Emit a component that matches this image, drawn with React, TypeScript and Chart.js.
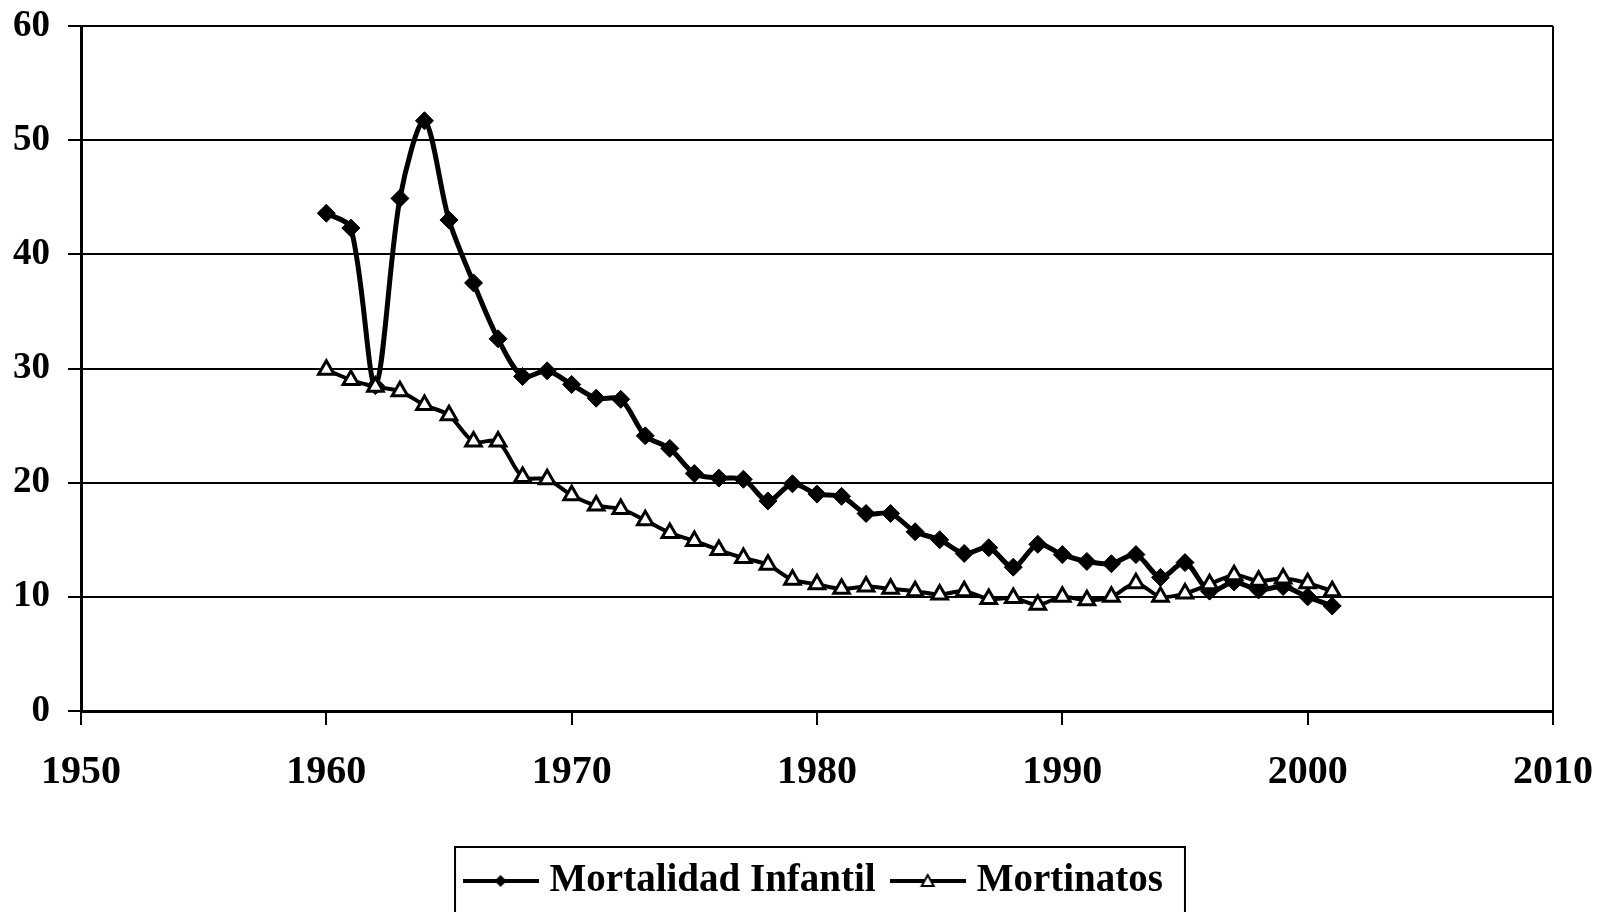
import { useEffect, useRef } from "react";
import { Chart, registerables } from "chart.js";

Chart.register(...registerables);

const years = [
  1960, 1961, 1962, 1963, 1964, 1965, 1966, 1967, 1968, 1969,
  1970, 1971, 1972, 1973, 1974, 1975, 1976, 1977, 1978, 1979,
  1980, 1981, 1982, 1983, 1984, 1985, 1986, 1987, 1988, 1989,
  1990, 1991, 1992, 1993, 1994, 1995, 1996, 1997, 1998, 1999,
  2000, 2001,
];

const mortalidadInfantil = [
  43.6, 42.3, 28.5, 44.9, 51.7, 43.0, 37.5, 32.6, 29.3, 29.8,
  28.6, 27.4, 27.3, 24.1, 23.0, 20.8, 20.4, 20.3, 18.4, 19.9,
  19.0, 18.8, 17.3, 17.3, 15.7, 15.0, 13.8, 14.3, 12.6, 14.6,
  13.7, 13.1, 12.9, 13.7, 11.7, 13.0, 10.5, 11.3, 10.6, 10.9,
  10.0, 9.2,
];

const mortinatos = [
  29.9, 29.0, 28.4, 28.0, 26.8, 25.9, 23.6, 23.6, 20.5, 20.3,
  18.9, 18.0, 17.7, 16.7, 15.6, 14.9, 14.1, 13.4, 12.8, 11.5,
  11.1, 10.7, 10.9, 10.7, 10.5, 10.2, 10.5, 9.8, 9.9, 9.3,
  10.0, 9.7, 10.0, 11.2, 10.0, 10.3, 11.1, 11.9, 11.4, 11.6,
  11.2, 10.5,
];

const seriesNames = ["Mortalidad Infantil", "Mortinatos"];
const xRange = [1950, 2010];
const yRange = [0, 60];
const tickStep = 10;

const FONT = "'Liberation Serif', 'Times New Roman', serif";

function makeLegendMarker(kind: "diamond" | "triangle"): HTMLCanvasElement {
  const w = 76;
  const c = document.createElement("canvas");
  c.width = w;
  c.height = 20;
  const ctx = c.getContext("2d")!;
  ctx.strokeStyle = "#000";
  ctx.lineWidth = 4;
  ctx.beginPath();
  ctx.moveTo(0, 10);
  ctx.lineTo(w, 10);
  ctx.stroke();
  const cx = w / 2;
  const cy = 10;
  if (kind === "diamond") {
    ctx.fillStyle = "#000";
    ctx.beginPath();
    ctx.moveTo(cx - 6, cy);
    ctx.lineTo(cx, cy - 6);
    ctx.lineTo(cx + 6, cy);
    ctx.lineTo(cx, cy + 6);
    ctx.closePath();
    ctx.fill();
  } else {
    ctx.fillStyle = "#fff";
    ctx.lineWidth = 2;
    ctx.beginPath();
    ctx.moveTo(cx, cy - 6);
    ctx.lineTo(cx + 6, cy + 5);
    ctx.lineTo(cx - 6, cy + 5);
    ctx.closePath();
    ctx.fill();
    ctx.stroke();
  }
  return c;
}

const legendBoxPlugin = {
  id: "legendBox",
  afterDraw(chart: any) {
    const legend = chart.legend;
    if (!legend || !legend.legendHitBoxes || legend.legendHitBoxes.length === 0) return;
    const hb = legend.legendHitBoxes;
    const first = hb[0];
    const last = hb[hb.length - 1];
    const left = first.left - 16;
    const right = last.left + last.width + 22;
    const top = first.top + first.height / 2 - 34;
    const ctx = chart.ctx;
    ctx.save();
    ctx.strokeStyle = "#000";
    ctx.lineWidth = 2;
    ctx.strokeRect(left, top, right - left, 200);
    ctx.restore();
  },
};

export default function App() {
  const canvasRef = useRef<HTMLCanvasElement | null>(null);

  useEffect(() => {
    if (!canvasRef.current) return;
    const markers = [makeLegendMarker("diamond"), makeLegendMarker("triangle")];

    const chart = new Chart(canvasRef.current, {
      type: "line",
      data: {
        datasets: [
          {
            label: seriesNames[0],
            data: years.map((y, i) => ({ x: y, y: mortalidadInfantil[i] })),
            borderColor: "#000",
            borderWidth: 5,
            pointStyle: "rectRot",
            pointRadius: 9,
            pointBackgroundColor: "#000",
            pointBorderColor: "#000",
            pointBorderWidth: 1,
            tension: 0.3,
            order: 1,
          },
          {
            label: seriesNames[1],
            data: years.map((y, i) => ({ x: y, y: mortinatos[i] })),
            borderColor: "#000",
            borderWidth: 4,
            pointStyle: "triangle",
            pointRadius: 9,
            pointBackgroundColor: "#fff",
            pointBorderColor: "#000",
            pointBorderWidth: 3,
            tension: 0.3,
            order: 0,
          },
        ],
      },
      options: {
        animation: false,
        responsive: true,
        maintainAspectRatio: false,
        layout: { padding: { left: 13, right: 47, top: 26, bottom: 1.5 } },
        plugins: {
          tooltip: { enabled: false },
          legend: {
            position: "bottom",
            fullSize: false,
            labels: {
              usePointStyle: true,
              pointStyleWidth: 59,
              padding: 22.5,
              color: "#000",
              font: { family: FONT, size: 39, weight: "bold" },
              generateLabels: () =>
                seriesNames.map((name, i) => ({
                  text: name,
                  pointStyle: markers[i],
                  fillStyle: "#000",
                  strokeStyle: "#000",
                  lineWidth: 0,
                  hidden: false,
                  datasetIndex: i,
                  fontColor: "#000",
                })),
            },
          },
        },
        scales: {
          x: {
            type: "linear",
            min: xRange[0],
            max: xRange[1],
            afterFit: (scale: any) => {
              scale.height = 128;
              scale.paddingLeft = 0;
              scale.paddingRight = 0;
            },
            ticks: {
              stepSize: tickStep,
              color: "#000",
              padding: 24,
              maxRotation: 0,
              font: { family: FONT, size: 40, weight: "bold" },
              callback: (v: any) => String(v),
            },
            grid: {
              drawOnChartArea: true,
              color: (ctx: any) =>
                ctx.tick && ctx.tick.value === xRange[1] ? "#000" : "rgba(0,0,0,0)",
              tickColor: "#000",
              tickLength: 14,
              lineWidth: 2,
            },
            border: { display: true, color: "#000", width: 3 },
          },
          y: {
            min: yRange[0],
            max: yRange[1],
            afterFit: (scale: any) => {
              scale.width = 68;
              scale.paddingTop = 0;
              scale.paddingBottom = 0;
            },
            ticks: {
              stepSize: tickStep,
              color: "#000",
              padding: 18,
              font: { family: FONT, size: 37, weight: "bold" },
            },
            grid: {
              color: "#000",
              tickColor: "#000",
              tickLength: 13,
              lineWidth: 2,
            },
            border: { display: true, color: "#000", width: 3 },
          },
        },
      },
      plugins: [legendBoxPlugin],
    });

    return () => chart.destroy();
  }, []);

  return (
    <div
      style={{
        position: "fixed",
        left: 0,
        top: 0,
        width: 1600,
        height: 912,
        background: "#fff",
      }}
    >
      <canvas ref={canvasRef} />
    </div>
  );
}
